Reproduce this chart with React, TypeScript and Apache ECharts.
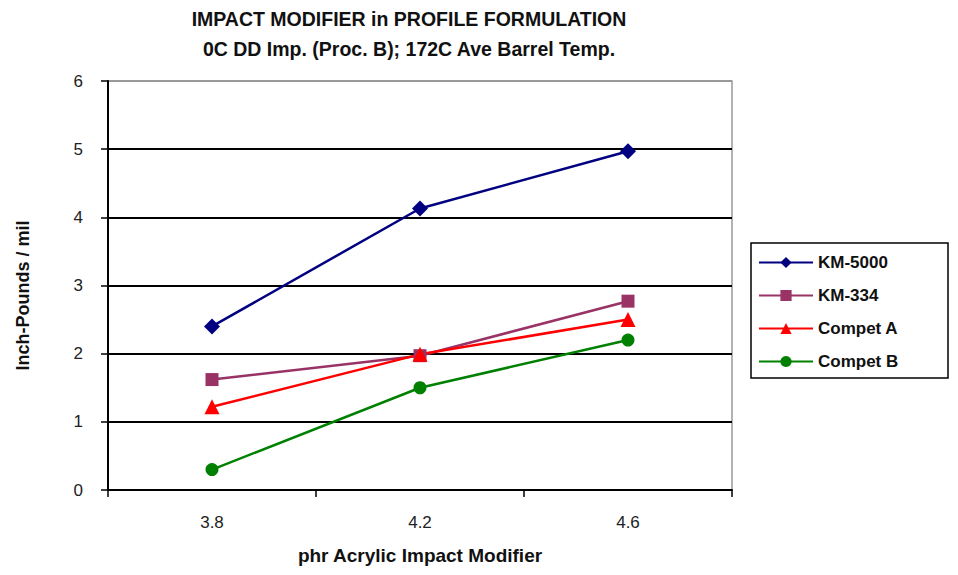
import React, { useEffect, useRef } from "react";
import * as echarts from "echarts";

const categories = ["3.8", "4.2", "4.6"];
const km5000 = [2.4, 4.13, 4.97];
const km334 = [1.62, 1.97, 2.77];
const competA = [1.22, 1.99, 2.5];
const competB = [0.3, 1.5, 2.2];
const seriesNames = ["KM-5000", "KM-334", "Compet A", "Compet B"];
const titleLines = ["IMPACT MODIFIER in PROFILE FORMULATION", "0C DD Imp. (Proc. B); 172C Ave Barrel Temp."];

const FONT = "Liberation Sans, Arial, sans-serif";

export default function App() {
  const ref = useRef<HTMLDivElement>(null);
  useEffect(() => {
    if (!ref.current) return;
    const chart = echarts.init(ref.current, null, { renderer: "svg" });
    const mk = (name: string, data: number[], color: string, symbol: string, size: number) => ({
      name,
      type: "line",
      data,
      symbol,
      symbolSize: size,
      itemStyle: { color },
      lineStyle: { color, width: 2.5 },
    });
    chart.setOption({
      animation: false,
      backgroundColor: "#fff",
      textStyle: { fontFamily: FONT },
      title: {
        text: titleLines.join("\n"),
        left: 404,
        textAlign: "center",
        top: -1,
        textStyle: { fontSize: 19.5, fontWeight: "bold", color: "#111", lineHeight: 30, fontFamily: FONT },
      },
      grid: { left: 108, right: 226, top: 81, bottom: 85, show: true, borderColor: "#999", borderWidth: 1.5 },
      xAxis: {
        type: "category",
        data: categories,
        boundaryGap: true,
        name: "phr Acrylic Impact Modifier",
        nameLocation: "middle",
        nameGap: 56,
        nameTextStyle: { fontSize: 19, fontWeight: "bold", color: "#111", fontFamily: FONT },
        axisLine: { lineStyle: { color: "#000", width: 2 } },
        axisTick: { show: true, length: 7, lineStyle: { color: "#000", width: 1.5 } },
        axisLabel: { fontSize: 17, color: "#222", margin: 24, fontFamily: FONT },
        splitLine: { show: false },
      },
      yAxis: {
        type: "value",
        min: 0,
        max: 6,
        interval: 1,
        name: "Inch-Pounds / mil",
        nameLocation: "middle",
        nameGap: 76,
        nameTextStyle: { fontSize: 18, fontWeight: "bold", color: "#111", fontFamily: FONT, padding: [0, 20, 0, 0] },
        axisLine: { show: true, lineStyle: { color: "#000", width: 2 } },
        axisTick: { show: true, inside: false, length: 7, lineStyle: { color: "#000", width: 1.5 } },
        axisLabel: { fontSize: 17, color: "#222", margin: 25, fontFamily: FONT },
        splitLine: {
          show: true,
          lineStyle: { color: ["#000", "#000", "#000", "#000", "#000", "#000", "#999"], width: 2 },
        },
      },
      legend: {
        orient: "vertical",
        left: 753,
        top: 249,
        itemWidth: 54,
        itemHeight: 14,
        itemGap: 16,
        data: seriesNames,
        textStyle: { fontSize: 17, fontWeight: "bold", color: "#111", fontFamily: FONT },
      },
      graphic: [
        {
          type: "rect",
          shape: { x: 751, y: 243, width: 197, height: 135 },
          style: { fill: "none", stroke: "#000", lineWidth: 1.5 },
          z: 100,
        },
      ],
      series: [
        mk(seriesNames[0], km5000, "#000080", "diamond", 16),
        mk(seriesNames[1], km334, "#993366", "rect", 13),
        mk(seriesNames[2], competA, "#FF0000", "triangle", 15),
        mk(seriesNames[3], competB, "#008000", "circle", 13),
      ],
    });
    return () => chart.dispose();
  }, []);
  return <div ref={ref} style={{ width: 958, height: 575, margin: -8 }} />;
}
